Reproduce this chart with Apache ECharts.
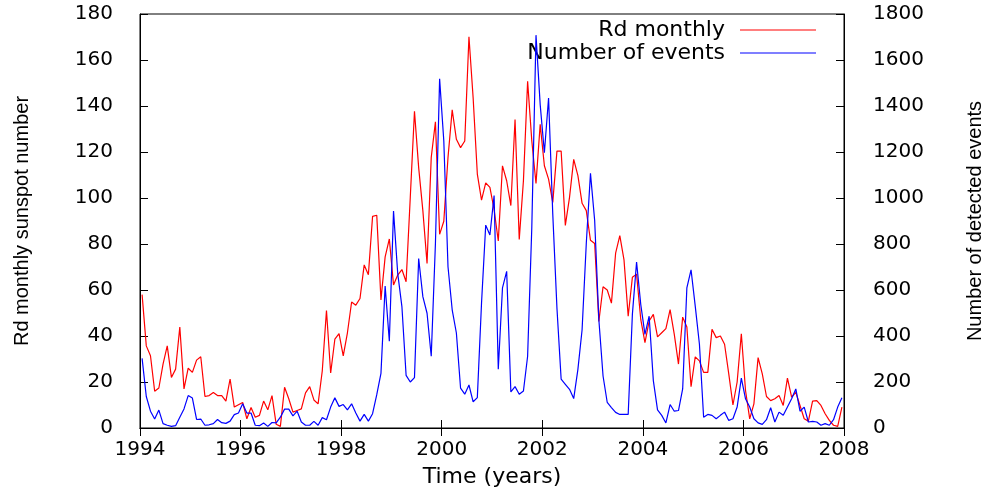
<!DOCTYPE html>
<html>
<head>
<meta charset="utf-8">
<script src="https://cdn.jsdelivr.net/npm/echarts@6/dist/echarts.min.js"></script>
<style>
html,body{margin:0;padding:0;background:#fff;}
#chart{width:993px;height:493px;}
</style>
</head>
<body>
<div id="chart"></div>
<script>
// Monthly data, January 1994 .. December 2007
var startYear = 1994;
var rdMonthly = [
  58, 35.7, 31.4, 16, 17.4, 27.8, 35.7, 22, 25.6, 43.9, 17, 26,
  24.2, 29.5, 31, 13.7, 14.1, 15.4, 14.1, 14.1, 11.7, 21.3, 9.1, 10.1,
  11.1, 4, 8.9, 4.7, 5.5, 11.7, 7.9, 14.1, 1.6, 0.7, 17.7, 12.7,
  6.9, 7.6, 8.3, 15.3, 18, 12.2, 10.5, 24.9, 51.1, 23.9, 38.6, 41,
  31.4, 41.4, 54.8, 53.4, 56.3, 70.9, 66.6, 92, 92.5, 55.7, 74.4, 82.2,
  62.2, 66.5, 68.9, 63.6, 100.3, 137.7, 113.2, 94.5, 71.5, 117.6, 133.1, 84.2,
  89.9, 117.6, 138.3, 125.5, 121.9, 124.8, 170.1, 143.5, 110.4, 99.1, 106.6, 104.6,
  95, 81.3, 114, 107.5, 96.7, 134.1, 82, 107.5, 150.7, 124.8, 106.3, 132,
  114, 108.2, 98.1, 120.4, 120.4, 88.1, 100.3, 116.8, 109.7, 97.7, 94.5, 81.6,
  80.2, 46.3, 61.4, 60, 54.3, 76, 83.6, 73.1, 48.6, 65.5, 66.9, 47.2,
  37.1, 46.5, 49.4, 39.6, 41.4, 43.2, 51.5, 40.7, 27.8, 48.2, 43.9, 18,
  30.9, 29.2, 24.2, 24.2, 42.9, 39.3, 40, 36.4, 23.5, 10, 20, 41,
  16.3, 4, 10.5, 30.6, 23.5, 13.7, 11.9, 12.7, 14.1, 9.8, 21.7, 13.4,
  15.5, 9.8, 4, 3, 11.7, 11.9, 9.8, 6.2, 3.3, 1.2, 0.7, 9.1
];
var events = [
  303, 137, 73, 39, 78, 19, 12, 7, 10, 47, 83, 141,
  130, 37, 39, 12, 14, 19, 37, 23, 20, 30, 58, 65,
  105, 65, 65, 12, 10, 22, 7, 24, 22, 47, 82, 82,
  53, 73, 26, 12, 12, 29, 12, 45, 36, 91, 131, 94,
  102, 79, 105, 65, 30, 59, 30, 62, 145, 237, 617, 377,
  943, 672, 528, 229, 200, 219, 737, 571, 499, 312, 802, 1518,
  1248, 701, 514, 413, 173, 147, 187, 114, 132, 542, 882, 839,
  1011, 256, 609, 681, 157, 180, 147, 161, 312, 873, 1708, 1406,
  1197, 1435, 931, 521, 212, 190, 168, 128, 255, 427, 802, 1107,
  902, 471, 226, 111, 89, 68, 59, 59, 59, 494, 721, 537,
  407, 486, 206, 79, 55, 22, 102, 73, 76, 170, 609, 688,
  530, 364, 47, 59, 55, 40, 55, 69, 33, 40, 91, 217,
  127, 91, 40, 22, 16, 36, 88, 26, 69, 55, 91, 127,
  170, 73, 91, 26, 29, 26, 12, 19, 12, 36, 91, 131
];
var seriesNames = ['Rd monthly', 'Number of events'];
var xTicks = {min: 1994, max: 2008, interval: 2};
var yLeftTicks = {min: 0, max: 180, interval: 20};
var yRightTicks = {min: 0, max: 1800, interval: 200};
var axisTitles = {x: 'Time (years)', yLeft: 'Rd monthly sunspot number', yRight: 'Number of detected events'};

function toPairs(arr) {
  return arr.map(function (v, i) { return [startYear + (i + 0.5) / 12, v]; });
}
function plain(v) { return String(v); }

var tickFont = {fontFamily: 'DejaVu Sans', fontSize: 20, color: '#000'};
var chart = echarts.init(document.getElementById('chart'));
chart.setOption({
  animation: false,
  backgroundColor: '#fff',
  grid: {left: 140, right: 145, top: 14, bottom: 62, show: true, borderColor: '#000', borderWidth: 1, backgroundColor: 'transparent'},
  legend: {
    orient: 'vertical', right: 172, top: 14, align: 'right',
    icon: 'rect', itemWidth: 76, itemHeight: 1, itemGap: 1,
    textStyle: {fontFamily: 'DejaVu Sans', fontSize: 22, color: '#000', lineHeight: 20, padding: [0, 10, 0, 0]},
    data: seriesNames
  },
  xAxis: [{
    type: 'value', min: xTicks.min, max: xTicks.max, interval: xTicks.interval,
    name: axisTitles.x, nameLocation: 'middle', nameGap: 38,
    nameTextStyle: {fontFamily: 'DejaVu Sans', fontSize: 22, color: '#000'},
    axisLine: {show: true, lineStyle: {color: '#000', width: 1}},
    axisTick: {show: true, inside: true, length: 8, lineStyle: {color: '#000'}},
    axisLabel: Object.assign({margin: 12, formatter: plain}, tickFont),
    splitLine: {show: false}
  }, {
    type: 'value', position: 'top', min: xTicks.min, max: xTicks.max, interval: xTicks.interval,
    axisLine: {show: true, lineStyle: {color: '#000', width: 1}},
    axisTick: {show: true, inside: true, length: 8, lineStyle: {color: '#000'}},
    axisLabel: {show: false}, splitLine: {show: false}
  }],
  yAxis: [{
    type: 'value', position: 'left', min: yLeftTicks.min, max: yLeftTicks.max, interval: yLeftTicks.interval,
    name: axisTitles.yLeft, nameLocation: 'middle', nameGap: 108,
    nameTextStyle: {fontFamily: 'Liberation Sans', fontSize: 20, color: '#000'},
    axisLine: {show: true, lineStyle: {color: '#000', width: 1}},
    axisTick: {show: true, inside: true, length: 8, lineStyle: {color: '#000'}},
    axisLabel: Object.assign({margin: 27, formatter: plain}, tickFont),
    splitLine: {show: false}
  }, {
    type: 'value', position: 'right', min: yRightTicks.min, max: yRightTicks.max, interval: yRightTicks.interval,
    name: axisTitles.yRight, nameLocation: 'middle', nameGap: 121,
    nameTextStyle: {fontFamily: 'Liberation Sans', fontSize: 20, color: '#000'},
    axisLine: {show: true, lineStyle: {color: '#000', width: 1}},
    axisTick: {show: true, inside: true, length: 8, lineStyle: {color: '#000'}},
    axisLabel: Object.assign({margin: 29, formatter: plain}, tickFont),
    splitLine: {show: false}
  }],
  series: [{
    name: seriesNames[0], type: 'line', xAxisIndex: 0, yAxisIndex: 0,
    data: toPairs(rdMonthly), symbol: 'none', showSymbol: false,
    lineStyle: {color: '#ff0000', width: 1.2}, itemStyle: {color: '#ff0000'}, z: 3
  }, {
    name: seriesNames[1], type: 'line', xAxisIndex: 0, yAxisIndex: 1,
    data: toPairs(events), symbol: 'none', showSymbol: false,
    lineStyle: {color: '#0000ff', width: 1.2}, itemStyle: {color: '#0000ff'}, z: 4
  }]
});
</script>
</body>
</html>
